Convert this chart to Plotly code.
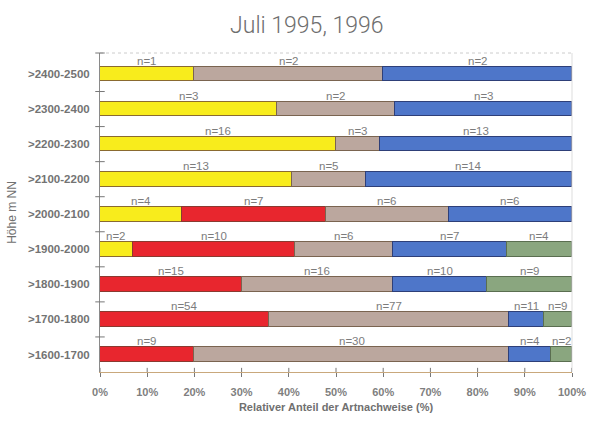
import plotly.graph_objects as go

categories = [">2400-2500", ">2300-2400", ">2200-2300", ">2100-2200", ">2000-2100",
              ">1900-2000", ">1800-1900", ">1700-1800", ">1600-1700"]
# counts (n) per group and altitude band; None = group absent
yellow = [1, 3, 16, 13, 4, 2, None, None, None]
red    = [None, None, None, None, 7, 10, 15, 54, 9]
brown  = [2, 2, 3, 5, 6, 6, 16, 77, 30]
blue   = [2, 3, 13, 14, 6, 7, 10, 11, 4]
green  = [None, None, None, None, None, 4, 9, 9, 2]
x_ticks = [0, 10, 20, 30, 40, 50, 60, 70, 80, 90, 100]
x_ticklabels = [f"{v}%" for v in x_ticks]

series = [
    ("gelb", yellow, "#f8ec1c", "#8a6a30"),
    ("rot", red, "#e8262e", "#8a3a30"),
    ("braun", brown, "#bba79e", "#7a6450"),
    ("blau", blue, "#4e76c9", "#2e3f78"),
    ("grün", green, "#8aa67f", "#5a6e50"),
]

totals = []
for i in range(len(categories)):
    totals.append(sum((s[1][i] or 0) for s in series))

FONT = "Liberation Sans, Arial"
fig = go.Figure()
annotations = []
cum = [0.0] * len(categories)
for name, vals, col, lcol in series:
    pct = [(v / totals[i] * 100 if v else None) for i, v in enumerate(vals)]
    fig.add_trace(go.Bar(
        y=categories, x=pct, orientation="h", name=name,
        marker=dict(color=col, line=dict(color=lcol, width=1)),
        width=0.42, hoverinfo="skip",
    ))
    for i, p in enumerate(pct):
        if p:
            annotations.append(dict(
                x=cum[i] + p / 2, y=categories[i], xref="x", yref="y",
                text=f"n={vals[i]}", showarrow=False, yanchor="bottom", yshift=5,
                font=dict(size=11.5, color="#7c7c7c", family=FONT),
            ))
            cum[i] += p

fig.update_layout(
    barmode="stack",
    width=598, height=424,
    margin=dict(l=97, r=21, t=53, b=51),
    paper_bgcolor="white", plot_bgcolor="white",
    showlegend=False,
    bargap=0,
    title=dict(text="Juli 1995, 1996", x=0.513, xanchor="center", y=0.941, yanchor="middle",
               font=dict(size=23, color="#6e6e6e", family="Roboto, Liberation Sans", weight=300)),
    font=dict(family=FONT, color="#707070"),
    annotations=annotations,
    xaxis=dict(range=[0, 100], tickvals=x_ticks, ticktext=x_ticklabels,
               showgrid=False, zeroline=False, showline=True, linecolor="#c9a87c", linewidth=1,
               ticks="outside", ticklen=4, tickcolor="#777", ticklabelstandoff=6,
               tickfont=dict(size=11, color="#7f7f7f", weight="bold"),
               title=dict(text="Relativer Anteil der Artnachweise (%)", standoff=6,
                          font=dict(size=11, color="#707070", weight="bold"))),
    yaxis=dict(categoryorder="array", categoryarray=categories[::-1],
               showgrid=False, zeroline=False, showline=True, linecolor="#8a8a8a", linewidth=1,
               ticks="", ticklabelstandoff=7, tickfont=dict(size=11.5, color="#737373", weight="bold"),
               title=dict(text="Höhe m NN", standoff=8, font=dict(size=12, color="#707070"))),
    shapes=[
        dict(type="line", xref="paper", yref="paper", x0=0, x1=1, y0=1, y1=1,
             line=dict(color="#cccccc", width=1, dash="dot")),
        dict(type="line", xref="paper", yref="paper", x0=1, x1=1, y0=0, y1=1,
             line=dict(color="#dddddd", width=1)),
    ],
)
# small tick marks between categories on the y axis
for k in range(len(categories) - 1):
    fig.add_shape(type="line", xref="paper", yref="y", x0=-0.01, x1=0.01,
                  y0=k + 0.5, y1=k + 0.5, line=dict(color="#777", width=1))
fig.add_shape(type="line", xref="paper", yref="paper", x0=-0.01, x1=0.01,
              y0=1, y1=1, line=dict(color="#777", width=1))
# upper half of the crossing x ticks
for v in x_ticks:
    fig.add_shape(type="line", xref="x", yref="paper", x0=v, x1=v, y0=0, y1=0.013,
                  line=dict(color="#777", width=1))

fig.write_html("out.html")
